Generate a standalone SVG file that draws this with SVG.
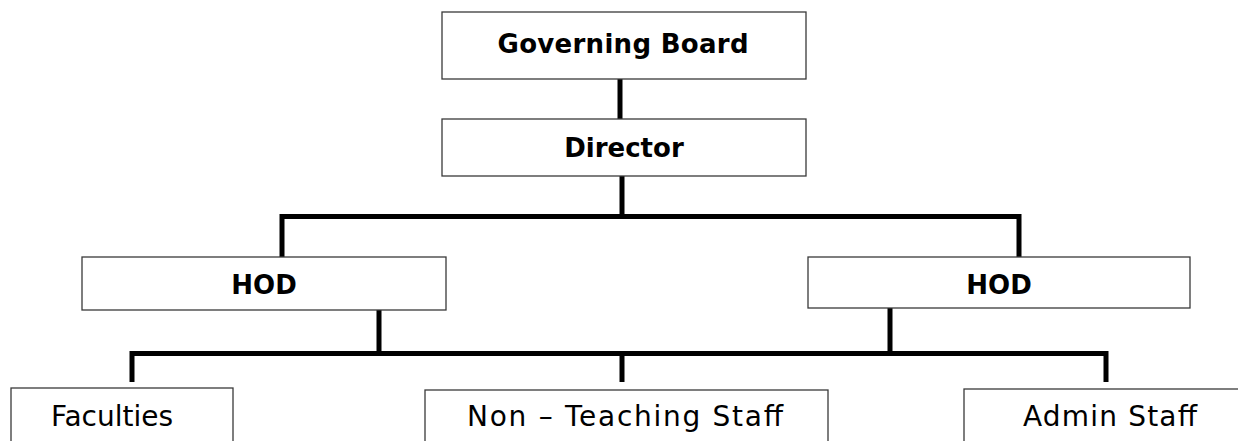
<svg xmlns="http://www.w3.org/2000/svg" width="1238" height="441" viewBox="0 0 1238 441">
<style>
.box{fill:#fff;stroke:#3a3a3a;stroke-width:1.3}
.c{fill:none;stroke:#000;stroke-width:5;stroke-linecap:butt;stroke-linejoin:miter}
.b{font-family:"DejaVu Sans",sans-serif;font-weight:bold;font-size:26px;fill:#000;text-anchor:middle}
.n{font-family:"DejaVu Sans",sans-serif;font-size:28px;fill:#000;text-anchor:middle}
</style>
<rect width="1238" height="441" fill="#fff"/>
<g id="connectors">
<path class="c" d="M620 79V119"/>
<path class="c" d="M622 176V216.5M282 257V216.5H1019V257"/>
<path class="c" d="M379 310V353.5M890 308V353.5M132 382V353.5H1106V382M622 353.5V382"/>
</g>
<g id="governing-board"><rect class="box" x="442" y="12" width="364" height="67"/><text class="b" x="623" y="53" textLength="251">Governing Board</text></g>
<g id="director"><rect class="box" x="442" y="119" width="364" height="57"/><text class="b" x="624" y="157">Director</text></g>
<g id="hod-left"><rect class="box" x="82" y="257" width="364" height="53"/><text class="b" x="264" y="294">HOD</text></g>
<g id="hod-right"><rect class="box" x="808" y="257" width="382" height="51"/><text class="b" x="999" y="294">HOD</text></g>
<g id="faculties"><rect class="box" x="11" y="388" width="222" height="60"/><text class="n" x="112" y="426">Faculties</text></g>
<g id="non-teaching"><rect class="box" x="425" y="390" width="403" height="60"/><text class="n" x="625" y="426" textLength="316">Non – Teaching Staff</text></g>
<g id="admin-staff"><rect class="box" x="964" y="389" width="280" height="60"/><text class="n" x="1110" y="426" textLength="174">Admin Staff</text></g>
</svg>
